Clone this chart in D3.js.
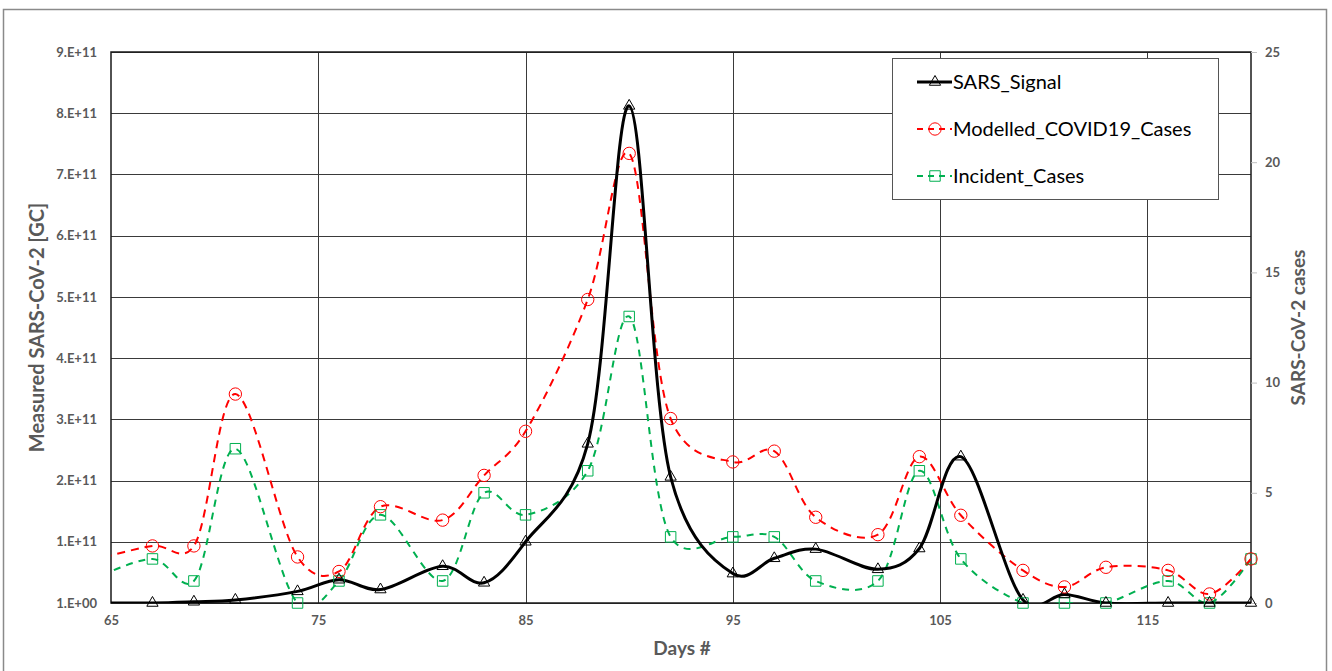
<!DOCTYPE html>
<html>
<head>
<meta charset="utf-8">
<script src="https://cdn.jsdelivr.net/npm/d3@7"></script>
<style>
body { margin: 0; background: #fff; }
text { font-family: Lato, "Open Sans", sans-serif; }
</style>
</head>
<body>
<div id="chart"></div>
<script>
// values
var days = [64, 67, 69, 71, 74, 76, 78, 81, 83, 85, 88, 90, 92, 95, 97, 99, 102, 104, 106, 109, 111, 113, 116, 118, 120];
// SARS signal, in units of 1e11 GC
var sarsSignal = [0, 0, 0.02, 0.05, 0.19, 0.38, 0.22, 0.6, 0.33, 1.0, 2.6, 8.12, 2.06, 0.48, 0.73, 0.88, 0.55, 0.89, 2.39, 0.05, 0.14, 0, 0, 0, 0];
var modelledCases = [1.9, 2.59, 2.59, 9.48, 2.09, 1.43, 4.37, 3.76, 5.79, 7.79, 13.77, 20.4, 8.37, 6.4, 6.89, 3.89, 3.1, 6.64, 3.98, 1.48, 0.73, 1.62, 1.48, 0.41, 2.0];
var incidentCases = [1, 2, 1, 7, 0, 1, 4, 1, 5, 4, 6, 13, 3, 3, 3, 1, 1, 6, 2, 0, 0, 0, 1, 0, 2];

var xTicks = [65, 75, 85, 95, 105, 115];
var leftTicks = [0, 1e11, 2e11, 3e11, 4e11, 5e11, 6e11, 7e11, 8e11, 9e11];
var leftTickLabels = ["1.E+00", "1.E+11", "2.E+11", "3.E+11", "4.E+11", "5.E+11", "6.E+11", "7.E+11", "8.E+11", "9.E+11"];
var rightTicks = [0, 5, 10, 15, 20, 25];
var legendNames = ["SARS_Signal", "Modelled_COVID19_Cases", "Incident_Cases"];

var W = 1332, H = 671;
var margin = {top: 52, right: 81, bottom: 68, left: 111},
    width = W - margin.left - margin.right,
    height = H - margin.top - margin.bottom;

var svgRoot = d3.select("#chart").append("svg")
  .attr("width", W).attr("height", H);

// outer frame
svgRoot.append("rect")
  .attr("x", 3.5).attr("y", 9.5).attr("width", 1323).attr("height", 670)
  .attr("fill", "none").attr("stroke", "#8a8a8a").attr("stroke-width", 1.5);

var svg = svgRoot.append("g")
  .attr("transform", "translate(" + margin.left + "," + margin.top + ")");

var x = d3.scaleLinear().domain([65, 120]).range([0, width]);
var yL = d3.scaleLinear().domain([0, 9e11]).range([height, 0]);
var yR = d3.scaleLinear().domain([0, 25]).range([height, 0]);

// gridlines
svg.append("g").selectAll("line").data(leftTicks).enter().append("line")
  .attr("x1", 0).attr("x2", width)
  .attr("y1", function(d){ return Math.round(yL(d)) + 0.5; })
  .attr("y2", function(d){ return Math.round(yL(d)) + 0.5; })
  .attr("stroke", "#3a3a3a").attr("stroke-width", 1);
svg.append("g").selectAll("line").data(xTicks.slice(1)).enter().append("line")
  .attr("y1", 0).attr("y2", height)
  .attr("x1", function(d){ return Math.round(x(d)) + 0.5; })
  .attr("x2", function(d){ return Math.round(x(d)) + 0.5; })
  .attr("stroke", "#3a3a3a").attr("stroke-width", 1);

// plot border
svg.append("rect").attr("x", 0).attr("y", 0).attr("width", width).attr("height", height)
  .attr("fill", "none").attr("stroke", "#1a1a1a").attr("stroke-width", 1.5);

// left axis
var axL = svg.append("g").call(d3.axisLeft(yL).tickValues(leftTicks)
  .tickFormat(function(d, i){ return leftTickLabels[i]; }).tickSize(0).tickPadding(14));
// bottom axis
var axB = svg.append("g").attr("transform", "translate(0," + (height + 13) + ")")
  .call(d3.axisBottom(x).tickValues(xTicks).tickFormat(d3.format("d")).tickSize(0).tickPadding(0));
// right axis
var axR = svg.append("g").attr("transform", "translate(" + width + ",0)")
  .call(d3.axisRight(yR).tickValues(rightTicks).tickSize(6).tickPadding(8));
[axL, axB, axR].forEach(function(a){
  a.select(".domain").remove();
  a.selectAll("text").attr("fill", "#595959").attr("font-size", 13).attr("font-weight", "bold")
    .style("font-family", "Lato, sans-serif");
  a.selectAll("line").attr("stroke", "#bfbfbf");
});

// axis titles
svgRoot.append("text").attr("transform", "translate(44," + (margin.top + height / 2) + ") rotate(-90)")
  .attr("text-anchor", "middle").attr("fill", "#595959").attr("font-size", 20).attr("font-weight", "bold")
  .text("Measured SARS-CoV-2 [GC]");
svgRoot.append("text").attr("transform", "translate(1305," + (margin.top + height / 2) + ") rotate(-90)")
  .attr("text-anchor", "middle").attr("fill", "#595959").attr("font-size", 19).attr("font-weight", "bold")
  .text("SARS-CoV-2 cases");
svgRoot.append("text").attr("x", 682).attr("y", 655)
  .attr("text-anchor", "middle").attr("fill", "#595959").attr("font-size", 19).attr("font-weight", "bold")
  .text("Days #");

// clip for lines
svg.append("clipPath").attr("id", "plotclip").append("rect")
  .attr("x", 0).attr("y", 0).attr("width", width).attr("height", height);

var sarsData = days.map(function(d, i){ return {day: d, v: sarsSignal[i] * 1e11}; });
var modData = days.map(function(d, i){ return {day: d, v: modelledCases[i]}; });
var incData = days.map(function(d, i){ return {day: d, v: incidentCases[i]}; });

function lineFor(yScale) {
  return d3.line().curve(d3.curveCatmullRom.alpha(0.15))
    .x(function(d){ return x(d.day); }).y(function(d){ return yScale(d.v); });
}

var series = [
  {data: incData, y: yR, color: "#00b050", width: 2, dash: "7,6", marker: "square"},
  {data: modData, y: yR, color: "#ff0000", width: 2, dash: "8,6", marker: "circle"},
  {data: sarsData, y: yL, color: "#000000", width: 3, dash: null, marker: "triangle"}
];

var symbols = {
  square: d3.symbol().type(d3.symbolSquare).size(110),
  circle: d3.symbol().type(d3.symbolCircle).size(120),
  triangle: d3.symbol().type(d3.symbolTriangle).size(55)
};

series.forEach(function(s){
  svg.append("path").datum(s.data)
    .attr("clip-path", "url(#plotclip)")
    .attr("fill", "none").attr("stroke", s.color).attr("stroke-width", s.width)
    .attr("stroke-dasharray", s.dash)
    .attr("d", lineFor(s.y));
});
series.forEach(function(s){
  svg.append("g").selectAll("path")
    .data(s.data.filter(function(d){ return d.day >= 65; }))
    .enter().append("path")
    .attr("transform", function(d){ return "translate(" + x(d.day) + "," + s.y(d.v) + ")"; })
    .attr("d", symbols[s.marker])
    .attr("fill", "none").attr("stroke", s.color).attr("stroke-width", 1);
});

// legend
var lg = svgRoot.append("g").attr("transform", "translate(892,58)");
lg.append("rect").attr("x", 0.5).attr("y", 0.5).attr("width", 326).attr("height", 141)
  .attr("fill", "#fff").attr("stroke", "#555").attr("stroke-width", 1);
var legendSeries = [series[2], series[1], series[0]];
legendNames.forEach(function(name, i){
  var s = legendSeries[i];
  var cy = 24 + i * 47;
  lg.append("line").attr("x1", 25).attr("x2", 60).attr("y1", cy).attr("y2", cy)
    .attr("stroke", s.color).attr("stroke-width", s.width)
    .attr("stroke-dasharray", s.dash ? "6,5" : null);
  lg.append("path").attr("transform", "translate(43," + cy + ")")
    .attr("d", symbols[s.marker]).attr("fill", "none").attr("stroke", s.color).attr("stroke-width", 1);
  lg.append("text").attr("x", 61).attr("y", cy).attr("dy", "0.35em")
    .attr("font-size", 20).attr("fill", "#000").text(name);
});
</script>
</body>
</html>
